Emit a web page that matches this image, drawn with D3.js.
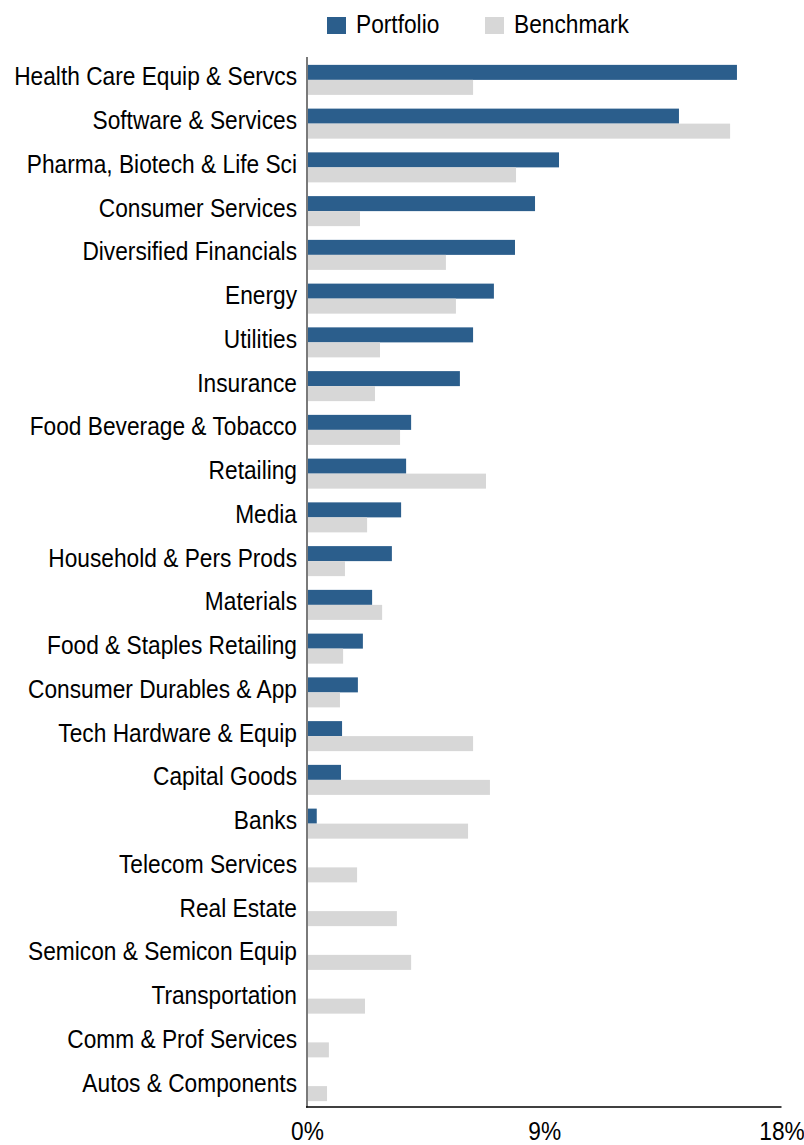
<!DOCTYPE html>
<html>
<head>
<meta charset="utf-8">
<script src="https://cdn.jsdelivr.net/npm/d3@7"></script>
<style>
  html, body { margin: 0; padding: 0; background: #fff; }
  svg { display: block; }
  text { font-family: "Liberation Sans", Arial, sans-serif; fill: #000; }
</style>
</head>
<body>
<svg id="chart" width="804" height="1145"></svg>
<script>
const categories = [
  "Health Care Equip & Servcs", "Software & Services", "Pharma, Biotech & Life Sci",
  "Consumer Services", "Diversified Financials", "Energy", "Utilities", "Insurance",
  "Food Beverage & Tobacco", "Retailing", "Media", "Household & Pers Prods",
  "Materials", "Food & Staples Retailing", "Consumer Durables & App",
  "Tech Hardware & Equip", "Capital Goods", "Banks", "Telecom Services",
  "Real Estate", "Semicon & Semicon Equip", "Transportation",
  "Comm & Prof Services", "Autos & Components"
];
const portfolio = [16.31, 14.11, 9.56, 8.65, 7.89, 7.09, 6.30, 5.80, 3.95, 3.76, 3.57, 3.22,
  2.47, 2.12, 1.93, 1.33, 1.29, 0.37, 0, 0, 0, 0, 0, 0];
const benchmark = [6.30, 16.05, 7.93, 2.01, 5.27, 5.65, 2.77, 2.58, 3.53, 6.79, 2.28, 1.44,
  2.85, 1.37, 1.25, 6.30, 6.94, 6.11, 1.90, 3.41, 3.95, 2.20, 0.83, 0.76];
const seriesNames = ["Portfolio", "Benchmark"];
const tickValues = [0, 9, 18];
const tickLabels = ["0%", "9%", "18%"];

const colors = { Portfolio: "#2B5E8C", Benchmark: "#D7D7D7" };
const FS = 26, SX = 0.874;

const svg = d3.select("#chart");

const x = d3.scaleLinear().domain([0, 18]).range([307, 781.5]);
const y = d3.scaleBand().domain(categories).range([58, 1108])
  .paddingInner(0.314).paddingOuter(0.157);
const sub = d3.scaleBand().domain(seriesNames).range([0, y.bandwidth()]);

const rows = categories.map((c, i) => ({ c, Portfolio: portfolio[i], Benchmark: benchmark[i] }));

const g = svg.append("g");
seriesNames.forEach(s => {
  g.selectAll("rect." + s)
    .data(rows)
    .join("rect")
    .attr("class", s)
    .attr("x", x(0))
    .attr("y", d => y(d.c) + sub(s))
    .attr("width", d => x(d[s]) - x(0))
    .attr("height", sub.bandwidth())
    .attr("fill", colors[s]);
});

// category labels
svg.append("g").selectAll("text")
  .data(categories)
  .join("text")
  .attr("transform", d => `translate(297,${y(d) + y.bandwidth() / 2 + 5.5}) scale(${SX},1)`)
  .attr("text-anchor", "end")
  .attr("font-size", FS)
  .text(d => d);

// axis lines
svg.append("line")
  .attr("x1", x(0)).attr("x2", x(0))
  .attr("y1", 57).attr("y2", 1107.5)
  .attr("stroke", "#7a7a7a").attr("stroke-width", 2);
svg.append("line")
  .attr("x1", x(0) - 1).attr("x2", x(18))
  .attr("y1", 1107).attr("y2", 1107)
  .attr("stroke", "#000").attr("stroke-width", 1.5);

// x tick labels
const xAxis = d3.axisBottom(x).tickValues(tickValues)
  .tickFormat((d, i) => tickLabels[i]).tickSize(0).tickPadding(0);
const ax = svg.append("g").attr("transform", "translate(0,1139.5)").call(xAxis);
ax.select(".domain").remove();
ax.selectAll("text")
  .attr("dy", 0)
  .attr("y", 0)
  .attr("transform", `scale(${SX},1)`)
  .attr("font-size", FS)
  .attr("font-family", "Liberation Sans, Arial, sans-serif")
  .attr("fill", "#000");

// legend
const legendPos = { Portfolio: 327, Benchmark: 485 };
seriesNames.forEach(s => {
  const lg = svg.append("g").attr("transform", `translate(${legendPos[s]},0)`);
  lg.append("rect").attr("x", 0).attr("y", 17).attr("width", 19).attr("height", 17)
    .attr("fill", colors[s]);
  lg.append("text").attr("transform", `translate(29,33) scale(${SX},1)`)
    .attr("font-size", FS).text(s);
});
</script>
</body>
</html>
